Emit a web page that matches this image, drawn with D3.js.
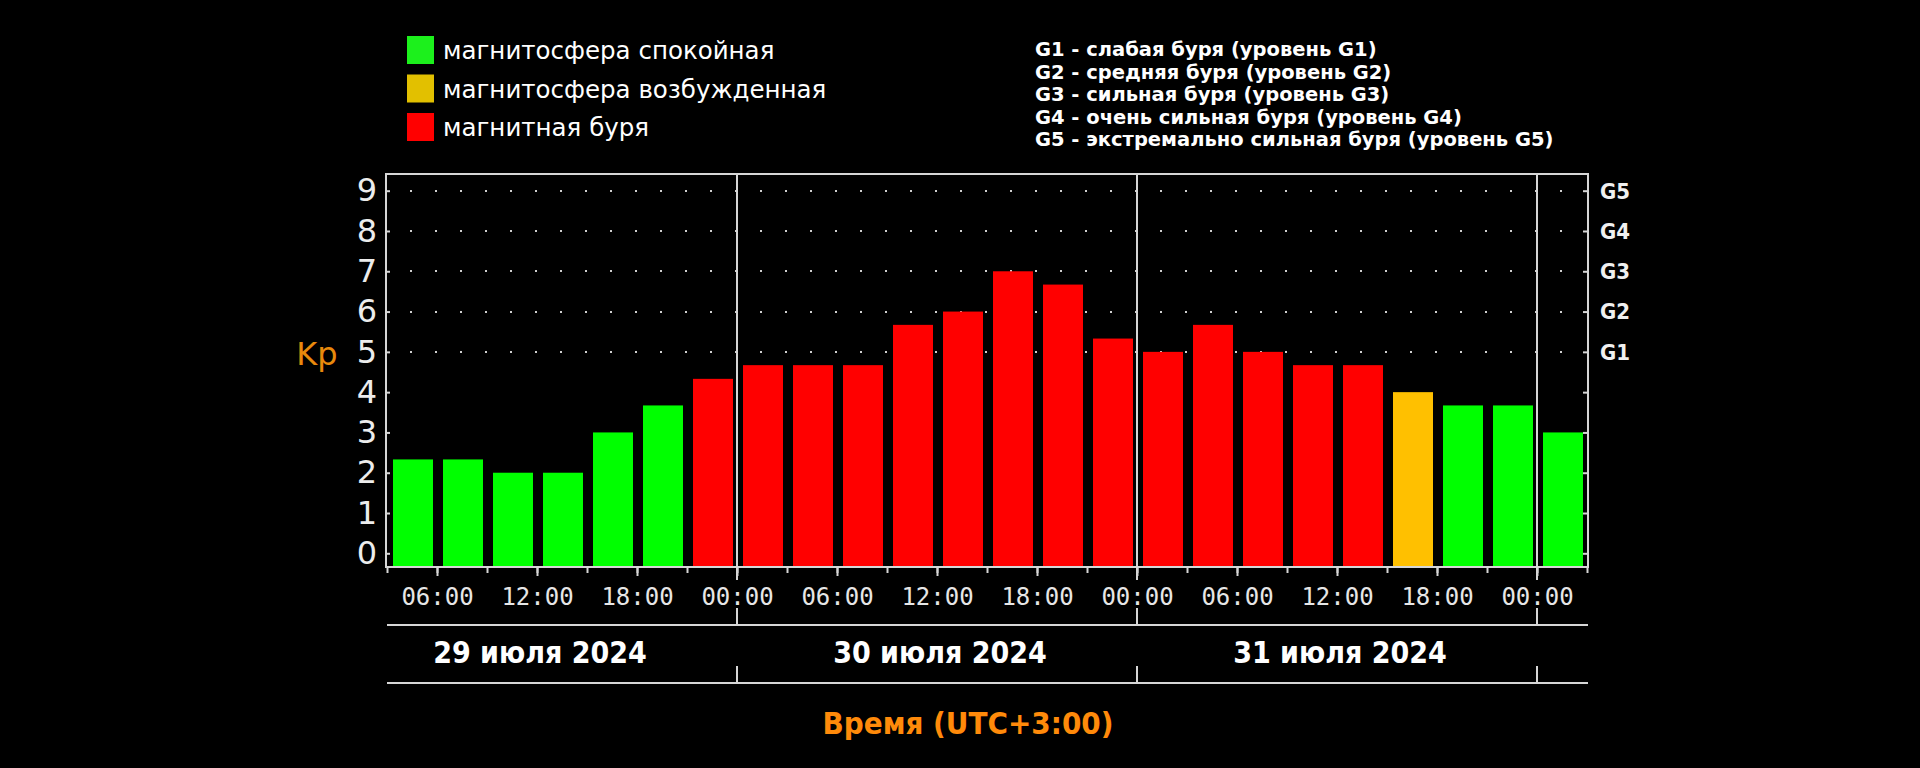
<!DOCTYPE html>
<html>
<head>
<meta charset="utf-8">
<script src="https://cdn.jsdelivr.net/npm/d3@7"></script>
<style>
  html, body { margin: 0; padding: 0; background: #000; }
  svg { display: block; }
</style>
</head>
<body>
<div id="chart"></div>
<script>
// Kp index, 3-hour intervals, UTC+3
var kpTimes = [
    "2024-07-29T03:00", "2024-07-29T06:00", "2024-07-29T09:00", "2024-07-29T12:00",
    "2024-07-29T15:00", "2024-07-29T18:00", "2024-07-29T21:00",
    "2024-07-30T00:00", "2024-07-30T03:00", "2024-07-30T06:00", "2024-07-30T09:00",
    "2024-07-30T12:00", "2024-07-30T15:00", "2024-07-30T18:00", "2024-07-30T21:00",
    "2024-07-31T00:00", "2024-07-31T03:00", "2024-07-31T06:00", "2024-07-31T09:00",
    "2024-07-31T12:00", "2024-07-31T15:00", "2024-07-31T18:00", "2024-07-31T21:00",
    "2024-08-01T00:00"
];
var kpValues = [
    2.33, 2.33, 2, 2, 3, 3.67, 4.33,
    4.67, 4.67, 4.67, 5.67, 6, 7, 6.67, 5.33,
    5, 5.67, 5, 4.67, 4.67, 4, 3.67, 3.67,
    3
];
var dayBreaks = ["2024-07-30T00:00", "2024-07-31T00:00", "2024-08-01T00:00"];
var dayMiddles = ["2024-07-29T12:00", "2024-07-30T12:00", "2024-07-31T12:00"];
var dayLabels = ["29 июля 2024", "30 июля 2024", "31 июля 2024"];
var kpTicks = [0, 1, 2, 3, 4, 5, 6, 7, 8, 9];
var gLevels = [5, 6, 7, 8, 9];
var gLabels = ["G1", "G2", "G3", "G4", "G5"];
var legendLabels = ["магнитосфера спокойная", "магнитосфера возбужденная", "магнитная буря"];
var legendColors = ["#1cf01c", "#e2c000", "#ff0000"];
var stormLabels = [
    "G1 - слабая буря (уровень G1)",
    "G2 - средняя буря (уровень G2)",
    "G3 - сильная буря (уровень G3)",
    "G4 - очень сильная буря (уровень G4)",
    "G5 - экстремально сильная буря (уровень G5)"
];

var w = 1920;
var h = 768;
var plotLeft = 386, plotRight = 1588, plotTop = 174, plotBottom = 567;
var lineColor = "#d6d6d6";

function parseT(s) {
    return new Date(s + ":00Z");
}

function barColor(v) {
    if (v < 4) return "#00ff00";
    if (v == 4) return "#ffc000";
    return "#ff0000";
}

var svg = d3.select("#chart").append("svg")
    .attr("width", w)
    .attr("height", h);

var x = d3.scaleUtc()
    .domain([parseT("2024-07-29T03:00"), parseT("2024-08-01T03:00")])
    .range([plotLeft + 1, plotRight - 1]);

var y = d3.scaleLinear()
    .domain([0, 9])
    .range([553.3, 190.7]);

// dotted grid at G levels
var dotXs = d3.range(plotLeft + 25, plotRight - 10, 25);
gLevels.forEach(function(g) {
    svg.selectAll(null)
        .data(dotXs)
        .enter().append("rect")
        .attr("x", function(d) { return d - 1; })
        .attr("y", Math.round(y(g)) - 1)
        .attr("width", 2)
        .attr("height", 2)
        .attr("fill", "#cfcfcf");
});

// bars
svg.selectAll("rect.bar")
    .data(kpValues)
    .enter().append("rect")
    .attr("class", "bar")
    .attr("x", function(d, i) { return x(parseT(kpTimes[i])) + 6; })
    .attr("width", function(d, i) {
        var t0 = parseT(kpTimes[i]);
        var t1 = d3.utcHour.offset(t0, 3);
        return x(t1) - x(t0) - 10;
    })
    .attr("y", function(d) { return y(d); })
    .attr("height", function(d) { return plotBottom - y(d); })
    .attr("fill", barColor);

// frame
svg.append("rect")
    .attr("x", plotLeft)
    .attr("y", plotTop)
    .attr("width", plotRight - plotLeft)
    .attr("height", plotBottom - plotTop)
    .attr("fill", "none")
    .attr("stroke", lineColor)
    .attr("stroke-width", 2);

// day separators
svg.selectAll("line.sep")
    .data(dayBreaks)
    .enter().append("line")
    .attr("class", "sep")
    .attr("x1", function(d) { return x(parseT(d)); })
    .attr("x2", function(d) { return x(parseT(d)); })
    .attr("y1", plotTop)
    .attr("y2", plotBottom + 13)
    .attr("stroke", lineColor)
    .attr("stroke-width", 2);

// left axis
var yAxis = d3.axisLeft(y).tickValues(kpTicks).tickSize(-4).tickPadding(9);
var gy = svg.append("g").attr("transform", "translate(" + plotLeft + ",0)").call(yAxis);
gy.select(".domain").remove();
gy.selectAll("line").attr("stroke", lineColor).attr("stroke-width", 2);
gy.selectAll("text")
    .attr("fill", "#ececec")
    .style("font-family", "'DejaVu Sans', Verdana, sans-serif")
    .style("font-size", "32px");

// right axis with G levels
var yAxisR = d3.axisRight(y).tickValues(kpTicks).tickSize(-5).tickFormat("");
var gr = svg.append("g").attr("transform", "translate(" + plotRight + ",0)").call(yAxisR);
gr.select(".domain").remove();
gr.selectAll("line").attr("stroke", lineColor).attr("stroke-width", 2);

svg.selectAll("text.glab")
    .data(gLevels)
    .enter().append("text")
    .attr("class", "glab")
    .attr("x", plotRight + 12)
    .attr("y", function(d) { return y(d); })
    .attr("dy", "0.36em")
    .attr("fill", "#f0f0f0")
    .style("font-family", "'DejaVu Sans Condensed', 'DejaVu Sans', Tahoma, sans-serif")
    .style("font-stretch", "condensed")
    .style("font-weight", "bold")
    .style("font-size", "22px")
    .text(function(d, i) { return gLabels[i]; });

// bottom axis: 3h minor ticks, 6h major ticks with labels
var xMinor = d3.axisBottom(x).ticks(d3.utcHour.every(3)).tickSize(6).tickFormat("");
var gxm = svg.append("g").attr("transform", "translate(0," + plotBottom + ")").call(xMinor);
gxm.select(".domain").remove();
gxm.selectAll("line").attr("stroke", lineColor).attr("stroke-width", 2);

var xMajor = d3.axisBottom(x).ticks(d3.utcHour.every(6)).tickSize(9).tickPadding(12)
    .tickFormat(d3.utcFormat("%H:%M"));
var gxM = svg.append("g").attr("transform", "translate(0," + plotBottom + ")").call(xMajor);
gxM.select(".domain").remove();
gxM.selectAll("line").attr("stroke", lineColor).attr("stroke-width", 2);
gxM.selectAll("text")
    .attr("fill", "#e6e6e6")
    .style("font-family", "'DejaVu Sans Mono', 'Liberation Mono', monospace")
    .style("font-size", "24px");
gxM.selectAll(".tick").filter(function(d) { return d.getUTCHours() % 6 != 0; }).remove();

// date band
var band1 = 625, band2 = 683;
[band1, band2].forEach(function(by) {
    svg.append("line")
        .attr("x1", plotLeft + 1).attr("x2", plotRight)
        .attr("y1", by).attr("y2", by)
        .attr("stroke", lineColor).attr("stroke-width", 2);
    svg.selectAll(null)
        .data(dayBreaks)
        .enter().append("line")
        .attr("x1", function(d) { return x(parseT(d)); })
        .attr("x2", function(d) { return x(parseT(d)); })
        .attr("y1", by - 17).attr("y2", by)
        .attr("stroke", lineColor).attr("stroke-width", 2);
});

svg.selectAll("text.day")
    .data(dayLabels)
    .enter().append("text")
    .attr("class", "day")
    .attr("x", function(d, i) { return x(parseT(dayMiddles[i])) + 3; })
    .attr("y", 663)
    .attr("text-anchor", "middle")
    .attr("fill", "#ffffff")
    .style("font-family", "'DejaVu Sans Condensed', 'Liberation Sans Narrow', 'DejaVu Sans', sans-serif")
    .style("font-stretch", "condensed")
    .style("font-weight", "bold")
    .style("font-size", "30px")
    .text(function(d) { return d; });

// axis titles
svg.append("text")
    .attr("x", 317)
    .attr("y", 365)
    .attr("text-anchor", "middle")
    .attr("fill", "#e8890c")
    .style("font-family", "'DejaVu Sans', Verdana, sans-serif")
    .style("font-size", "32px")
    .text("Kp");

svg.append("text")
    .attr("x", 968)
    .attr("y", 734)
    .attr("text-anchor", "middle")
    .attr("fill", "#ff8a0a")
    .style("font-family", "'DejaVu Sans Condensed', 'Liberation Sans Narrow', 'DejaVu Sans', sans-serif")
    .style("font-stretch", "condensed")
    .style("font-weight", "bold")
    .style("font-size", "31px")
    .text("Время (UTC+3:00)");

// colour legend
var leg = svg.selectAll("g.leg")
    .data(legendLabels)
    .enter().append("g")
    .attr("class", "leg")
    .attr("transform", function(d, i) { return "translate(407," + (36 + i * 38.5) + ")"; });
leg.append("rect")
    .attr("width", 27)
    .attr("height", 28)
    .attr("fill", function(d, i) { return legendColors[i]; });
leg.append("text")
    .attr("x", 36)
    .attr("y", 23)
    .attr("fill", "#ffffff")
    .style("font-family", "'DejaVu Sans', Verdana, sans-serif")
    .style("font-size", "24.5px")
    .text(function(d) { return d; });

// storm level legend
svg.selectAll("text.storm")
    .data(stormLabels)
    .enter().append("text")
    .attr("class", "storm")
    .attr("x", 1035)
    .attr("y", function(d, i) { return 56 + i * 22.6; })
    .attr("fill", "#ffffff")
    .style("font-family", "'DejaVu Sans', Tahoma, sans-serif")
    .style("font-weight", "bold")
    .style("font-size", "19.5px")
    .text(function(d) { return d; });
</script>
</body>
</html>
